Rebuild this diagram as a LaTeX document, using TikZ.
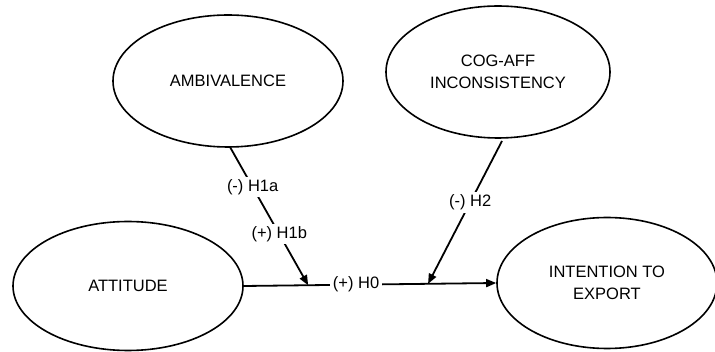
\documentclass[tikz,border=0pt]{standalone}
\usepackage{fontspec}
\setmainfont{Liberation Sans}
\usetikzlibrary{shapes.geometric,arrows.meta,calc}
\begin{document}
\begin{tikzpicture}[x=1pt,y=-1pt,
  construct/.style={draw,ellipse,line width=1.6pt,inner sep=0pt,
    align=center,font=\fontsize{16.5}{22}\selectfont},
  link/.style={line width=1.8pt},
  arrowlink/.style={link,-{Triangle[length=10pt,width=8pt]}},
  hyp/.style={fill=white,inner sep=2.5pt,font=\fontsize{16.5}{20}\selectfont}]
\useasboundingbox (0,0) rectangle (715,352);
\node[construct,minimum width=230pt,minimum height=132pt] (amb) at (228,81) {AMBIVALENCE};
\node[construct,minimum width=224pt,minimum height=132pt] (cog) at (498,72) {COG-AFF\\INCONSISTENCY};
\node[construct,minimum width=230pt,minimum height=129pt] (att) at (128,286) {ATTITUDE};
\node[construct,minimum width=220pt,minimum height=131pt] (int) at (607,283) {INTENTION TO\\EXPORT};
% main effect
\draw[arrowlink] (att.east) -- node[hyp,pos=0.445] (h0) {(+) H0} (int.west);
% moderators pointing onto the main path
\coordinate (m1) at ($(att.east)!0.255!(int.west)$);
\coordinate (m2) at ($(att.east)!0.73!(int.west)$);
\coordinate (a1) at (230,147);
\coordinate (c1) at (502,141);
\draw[arrowlink] (a1) -- node[hyp,pos=0.29] (h1a) {(-) H1a}
  node[hyp,pos=0.63] (h1b) {(+) H1b} (m1);
\draw[arrowlink] (c1) -- node[hyp,pos=0.43] (h2) {(-) H2} (m2);
\end{tikzpicture}
\end{document}
